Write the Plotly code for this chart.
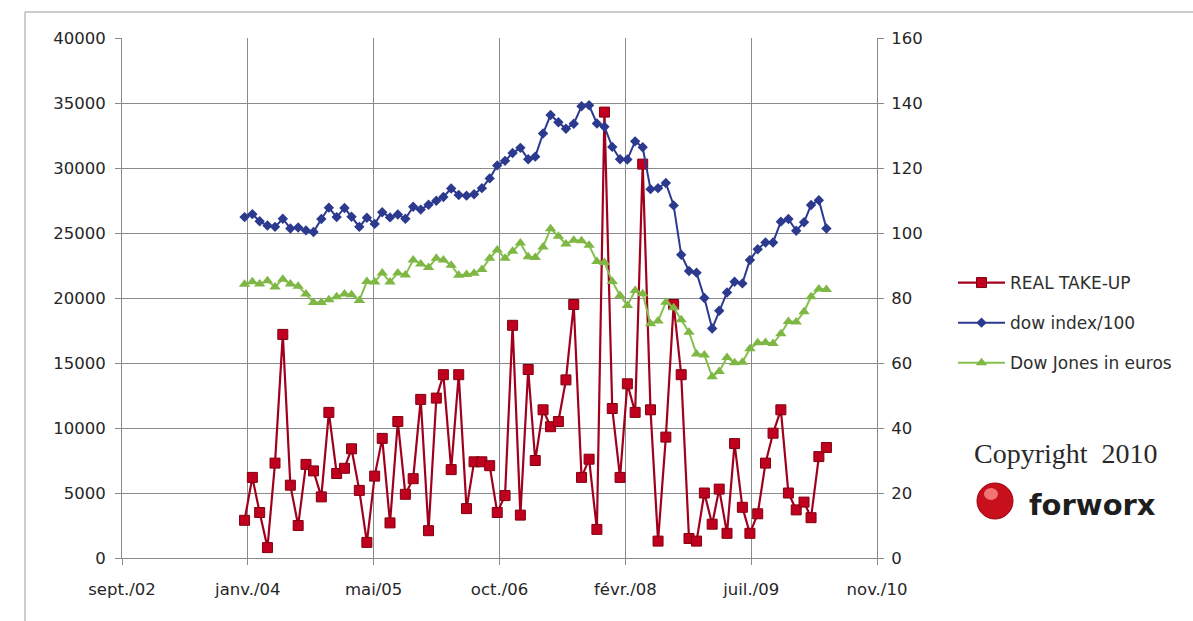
import pandas as pd
import plotly.graph_objects as go

# Monthly observations, January 2004 to May 2010
months = pd.date_range("2004-01-01", "2010-05-01", freq="MS")

# Office take-up (left axis)
real_take_up = [
    2900, 6200, 3500, 800, 7300, 17200, 5600, 2500, 7200, 6700, 4700, 11200,
    6500, 6900, 8400, 5200, 1200, 6300, 9200, 2700, 10500, 4900, 6100, 12200,
    2100, 12300, 14100, 6800, 14100, 3800, 7400, 7400, 7100, 3500, 4800, 17900,
    3300, 14500, 7500, 11400, 10100, 10500, 13700, 19500, 6200, 7600, 2200, 34300,
    11500, 6200, 13400, 11200, 30300, 11400, 1300, 9300, 19500, 14100, 1500, 1300,
    5000, 2600, 5300, 1900, 8800, 3900, 1900, 3400, 7300, 9600, 11400, 5000,
    3700, 4300, 3100, 7800, 8500,
]

# Dow Jones month-end close divided by 100 (right axis)
dow_index_100 = [
    104.9, 105.8, 103.6, 102.3, 101.9, 104.4, 101.4, 101.7, 100.8, 100.3, 104.3, 107.8,
    104.9, 107.7, 105.0, 101.9, 104.7, 102.8, 106.4, 104.8, 105.7, 104.4, 108.1, 107.2,
    108.7, 109.9, 111.1, 113.7, 111.7, 111.5, 111.9, 113.8, 116.8, 120.8, 122.2, 124.6,
    126.2, 122.7, 123.5, 130.6, 136.3, 134.1, 132.1, 133.6, 139.0, 139.3, 133.7, 132.7,
    126.5, 122.7, 122.6, 128.2, 126.4, 113.5, 113.8, 115.4, 108.5, 93.3, 88.3, 87.8,
    80.0, 70.6, 76.1, 81.7, 85.0, 84.5, 91.7, 95.0, 97.1, 97.1, 103.5, 104.3,
    100.7, 103.3, 108.6, 110.1, 101.4,
]

# Dow Jones expressed in euros, divided by 100 (right axis)
dow_jones_eur = [
    84.2, 85.0, 84.3, 85.3, 83.4, 85.8, 84.3, 83.6, 81.2, 78.6, 78.6, 79.5,
    80.4, 81.2, 81.0, 79.2, 85.1, 84.9, 87.7, 84.9, 87.7, 87.1, 91.7, 90.5,
    89.4, 92.2, 91.7, 90.1, 87.0, 87.2, 87.6, 88.8, 92.2, 94.8, 92.2, 94.4,
    96.9, 92.7, 92.5, 95.7, 101.3, 99.0, 96.6, 97.8, 97.6, 96.2, 91.2, 90.9,
    85.1, 80.8, 77.7, 82.3, 81.3, 72.1, 72.9, 78.7, 77.0, 73.3, 69.5, 62.8,
    62.5, 55.8, 57.4, 61.7, 60.1, 60.2, 64.4, 66.2, 66.3, 66.0, 69.0, 72.8,
    72.6, 75.8, 80.4, 82.8, 82.6,
]

x_tick_dates = ["2002-09-01", "2004-01-14", "2005-05-28", "2006-10-10",
                "2008-02-22", "2009-07-06", "2010-11-18"]
x_tick_labels = ["sept./02", "janv./04", "mai/05", "oct./06",
                 "févr./08", "juil./09", "nov./10"]

W, H = 1193, 621
L, R, T, B = 122, 877, 38, 558  # plot area in pixels


def px(x):
    return (x - L) / (R - L)


def py(y):
    return (B - y) / (B - T)


grid = "#8a8a8a"
tick_font = dict(family="DejaVu Sans", size=16.5, color="#262626")

fig = go.Figure()

fig.add_trace(go.Scatter(
    x=months, y=dow_index_100, name="dow index/100", yaxis="y2",
    mode="lines+markers", legendgroup="b", legendrank=2,
    line=dict(color="#2b3a8f", width=2),
    marker=dict(symbol="diamond", size=8, color="#2b3a8f"),
))
fig.add_trace(go.Scatter(
    x=months, y=dow_jones_eur, name="Dow Jones in euros", yaxis="y2",
    mode="lines+markers", legendgroup="c", legendrank=3,
    line=dict(color="#86c04f", width=2),
    marker=dict(symbol="triangle-up", size=10, color="#7fb744"),
))
fig.add_trace(go.Scatter(
    x=months, y=real_take_up, name="REAL TAKE-UP", yaxis="y",
    mode="lines+markers", legendgroup="a", legendrank=1,
    line=dict(color="#a0001c", width=2.2),
    marker=dict(symbol="square", size=10, color="#c1001f",
                line=dict(color="#80000f", width=1)),
))

fig.update_layout(
    width=W, height=H,
    margin=dict(l=L, r=W - R, t=T, b=H - B),
    paper_bgcolor="white", plot_bgcolor="white",
    font=dict(family="DejaVu Sans", color="#333333"),
    xaxis=dict(
        type="date", range=[x_tick_dates[0], x_tick_dates[-1]],
        tickmode="array", tickvals=x_tick_dates, ticktext=x_tick_labels,
        showgrid=True, gridcolor=grid, gridwidth=1,
        showline=True, linecolor=grid, linewidth=1,
        ticks="outside", ticklen=6, tickcolor=grid,
        tickfont=tick_font, ticklabelstandoff=10, zeroline=False,
    ),
    yaxis=dict(
        range=[0, 40000], dtick=5000, tickformat="d",
        showgrid=True, gridcolor=grid, gridwidth=1,
        showline=True, linecolor=grid, linewidth=1,
        ticks="outside", ticklen=6, tickcolor=grid,
        tickfont=tick_font, ticklabelstandoff=6, zeroline=False,
    ),
    yaxis2=dict(
        range=[0, 160], dtick=20, overlaying="y", side="right",
        showgrid=False, showline=True, linecolor=grid, linewidth=1,
        ticks="outside", ticklen=6, tickcolor=grid,
        tickfont=tick_font, ticklabelstandoff=4, zeroline=False,
    ),
    legend=dict(
        x=px(953), y=py(265), xanchor="left", yanchor="top",
        font=dict(family="DejaVu Sans", size=17, color="#2e2e2e"),
        tracegroupgap=15, itemwidth=47, bgcolor="rgba(0,0,0,0)",
    ),
    showlegend=True,
)

# Outer chart frame
fig.add_shape(type="rect", xref="paper", yref="paper",
              x0=px(25), x1=px(1200), y0=py(630), y1=py(12),
              line=dict(color="#9a9a9a", width=1), layer="below")

# Copyright line and logo
fig.add_annotation(xref="paper", yref="paper", x=px(1066), y=py(453),
                   text="Copyright  2010", showarrow=False,
                   font=dict(family="Liberation Serif", size=28, color="#2a2a2a"),
                   xanchor="center", yanchor="middle")
fig.add_shape(type="circle", xref="paper", yref="paper",
              x0=px(977), x1=px(1013), y0=py(519), y1=py(483),
              fillcolor="#c8101c", line=dict(color="#9a0010", width=1))
fig.add_shape(type="circle", xref="paper", yref="paper",
              x0=px(984), x1=px(998), y0=py(500), y1=py(488),
              fillcolor="rgba(255,150,150,0.75)", line=dict(width=0))
fig.add_annotation(xref="paper", yref="paper", x=px(1027), y=py(505),
                   text="<b>forworx</b>", showarrow=False,
                   font=dict(family="DejaVu Sans", size=29, color="#1e1e1e"),
                   xanchor="left", yanchor="middle")

fig.write_html("out.html")
